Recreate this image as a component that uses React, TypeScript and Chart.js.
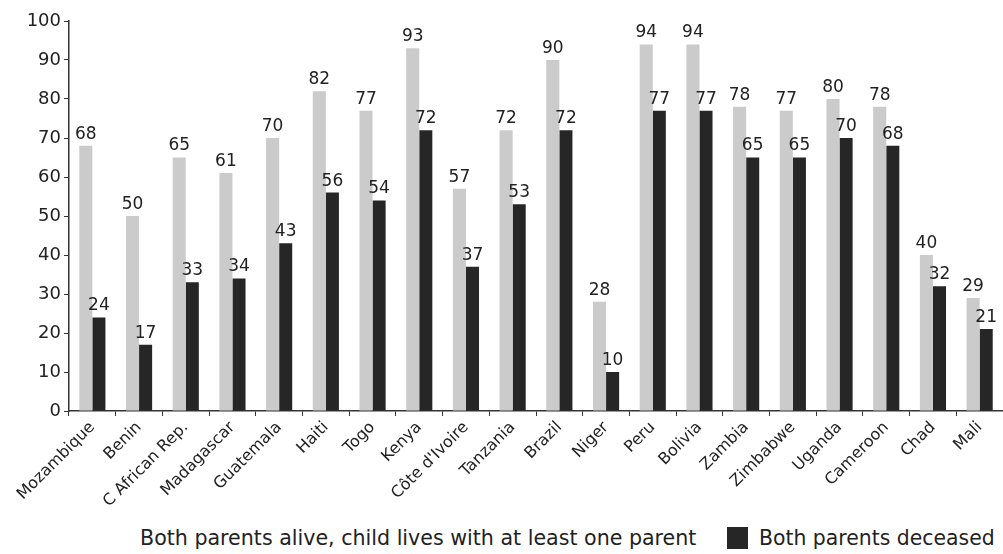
import React, { useEffect, useRef } from "react";
import { Chart, registerables } from "chart.js";

Chart.register(...registerables);

const countries = [
  "Mozambique", "Benin", "C African Rep.", "Madagascar", "Guatemala", "Haiti", "Togo", "Kenya",
  "Côte d'Ivoire", "Tanzania", "Brazil", "Niger", "Peru", "Bolivia", "Zambia", "Zimbabwe",
  "Uganda", "Cameroon", "Chad", "Mali",
];
const parentsAlive = [68, 50, 65, 61, 70, 82, 77, 93, 57, 72, 90, 28, 94, 94, 78, 77, 80, 78, 40, 29];
const parentsDeceased = [24, 17, 33, 34, 43, 56, 54, 72, 37, 53, 72, 10, 77, 77, 65, 65, 70, 68, 32, 21];
const seriesNames = [
  "Both parents alive, child lives with at least one parent",
  "Both parents deceased",
];
const yTicks = [0, 10, 20, 30, 40, 50, 60, 70, 80, 90, 100];

const FONT = "'DejaVu Sans', sans-serif";
const LIGHT = "#cbcbcb";
const DARK = "#262626";
const INK = "#222222";

const valueLabels = {
  id: "valueLabels",
  afterDatasetsDraw(chart: any) {
    const ctx = chart.ctx;
    ctx.save();
    ctx.font = `17px ${FONT}`;
    ctx.fillStyle = INK;
    ctx.textAlign = "center";
    ctx.textBaseline = "bottom";
    chart.data.datasets.forEach((ds: any, i: number) => {
      const meta = chart.getDatasetMeta(i);
      meta.data.forEach((el: any, j: number) => {
        ctx.fillText(String(ds.data[j]), el.x, el.y - 3);
      });
    });
    ctx.restore();
  },
};

export default function App() {
  const ref = useRef<HTMLCanvasElement | null>(null);

  useEffect(() => {
    if (!ref.current) return;
    const chart = new Chart(ref.current, {
      type: "bar",
      data: {
        labels: countries,
        datasets: [
          {
            label: seriesNames[0],
            data: parentsAlive,
            backgroundColor: LIGHT,
            categoryPercentage: 0.56,
            barPercentage: 1,
          },
          {
            label: seriesNames[1],
            data: parentsDeceased,
            backgroundColor: DARK,
            categoryPercentage: 0.56,
            barPercentage: 1,
          },
        ],
      },
      options: {
        animation: false,
        responsive: false,
        maintainAspectRatio: false,
        layout: { padding: { top: 21, right: 0, left: 0, bottom: 0 } },
        plugins: {
          legend: { display: false },
          tooltip: { enabled: false },
        },
        scales: {
          x: {
            grid: {
              drawOnChartArea: false,
              drawTicks: true,
              tickLength: 5,
              color: "#333",
              offset: true,
            },
            border: { display: true, color: "#333", width: 1.5 },
            ticks: {
              autoSkip: false,
              minRotation: 45,
              maxRotation: 45,
              padding: 2,
              color: INK,
              font: { family: FONT, size: 16 },
            },
            afterFit(scale: any) {
              scale.height = 109;
            },
          },
          y: {
            min: 0,
            max: 100,
            afterBuildTicks(scale: any) {
              scale.ticks = yTicks.map((v) => ({ value: v }));
            },
            grid: {
              drawOnChartArea: false,
              drawTicks: true,
              tickLength: 5,
              color: "#333",
            },
            border: { display: true, color: "#333", width: 1.5 },
            ticks: {
              padding: 3,
              color: INK,
              font: { family: FONT, size: 18 },
            },
            afterFit(scale: any) {
              scale.width = 69;
            },
          },
        },
      },
      plugins: [valueLabels],
    });
    return () => chart.destroy();
  }, []);

  return (
    <div style={{ position: "fixed", left: 0, top: 0, width: 1003, height: 554, background: "#fff", fontFamily: FONT }}>
      <canvas ref={ref} width={1003} height={520} style={{ position: "absolute", left: 0, top: 0 }} />
      <div style={{ position: "absolute", left: 140, top: 526, fontSize: 20.6, lineHeight: "24px", color: INK, whiteSpace: "nowrap" }}>
        {seriesNames[0]}
      </div>
      <div style={{ position: "absolute", left: 727, top: 527, width: 21, height: 22, background: DARK }} />
      <div style={{ position: "absolute", left: 759, top: 526, fontSize: 20.4, lineHeight: "24px", color: INK, whiteSpace: "nowrap" }}>
        {seriesNames[1]}
      </div>
    </div>
  );
}
